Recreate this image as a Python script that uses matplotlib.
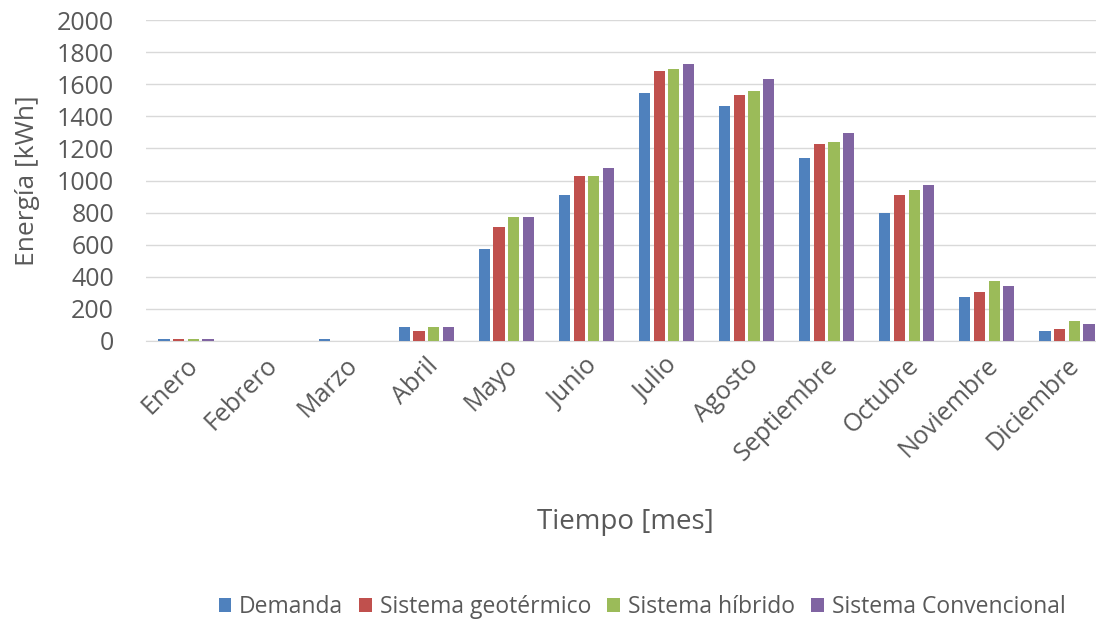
import matplotlib
matplotlib.use("Agg")
import matplotlib.pyplot as plt
import matplotlib.transforms as mtransforms
import numpy as np

months = ["Enero", "Febrero", "Marzo", "Abril", "Mayo", "Junio", "Julio",
          "Agosto", "Septiembre", "Octubre", "Noviembre", "Diciembre"]
demanda = [10, 0, 10, 85, 575, 910, 1545, 1465, 1140, 800, 275, 65]
geotermico = [10, 0, 0, 65, 710, 1030, 1685, 1535, 1230, 910, 305, 75]
hibrido = [10, 0, 0, 85, 770, 1030, 1695, 1560, 1240, 940, 375, 125]
convencional = [10, 0, 0, 85, 770, 1080, 1725, 1635, 1295, 970, 343, 106]
series_names = ["Demanda", "Sistema geotérmico", "Sistema híbrido", "Sistema Convencional"]
colors = ["#4F81BD", "#C0504D", "#9BBB59", "#8064A2"]

plt.rcParams['font.family'] = ['Open Sans', 'DejaVu Sans']
txt = "#595959"

fig = plt.figure(figsize=(10.96, 6.27), dpi=100)
ax = fig.add_axes([146/1096, 1 - 341/627, 961/1096, 321/627])

x = np.arange(len(months))
pitch = 0.183
width = 0.14
for i, (vals, name, c) in enumerate(zip([demanda, geotermico, hibrido, convencional], series_names, colors)):
    ax.bar(x + (i - 1.5) * pitch, vals, width=width, color=c, label=name, zorder=3)

ax.set_xlim(-0.5, 11.5)
ax.set_ylim(0, 2000)
ax.set_yticks(range(0, 2001, 200))
ax.grid(axis='y', color="#D9D9D9", linewidth=1, zorder=0)
for s in ["top", "right", "left"]:
    ax.spines[s].set_visible(False)
ax.spines["bottom"].set_color("#D9D9D9")
ax.tick_params(axis='both', length=0, colors=txt, labelsize=18)
ax.tick_params(axis='y', pad=23)
ax.set_xticks(x)
ax.set_xticklabels(months, rotation=45, ha='right', va='center', rotation_mode='anchor')
ax.tick_params(axis='x', pad=15)
offset = mtransforms.ScaledTranslation(8/100, 0, fig.dpi_scale_trans)
for lab in ax.get_xticklabels():
    lab.set_transform(lab.get_transform() + offset)

ax.set_ylabel("Energía [kWh]", fontsize=19, color=txt, va='center')
ax.yaxis.set_label_coords((28 - 146) / 961, 0.5)
fig.text(625/1096, 1 - 522/627, "Tiempo [mes]", ha='center', va='center', fontsize=20, color=txt)

leg = fig.legend(loc='center', bbox_to_anchor=(642/1096, 1 - 607/627), ncol=4, frameon=False,
                 fontsize=16.5, handlelength=0.55, handleheight=0.55, handletextpad=0.35,
                 columnspacing=0.7, labelcolor=txt)

fig.savefig("out.png", dpi=100)
